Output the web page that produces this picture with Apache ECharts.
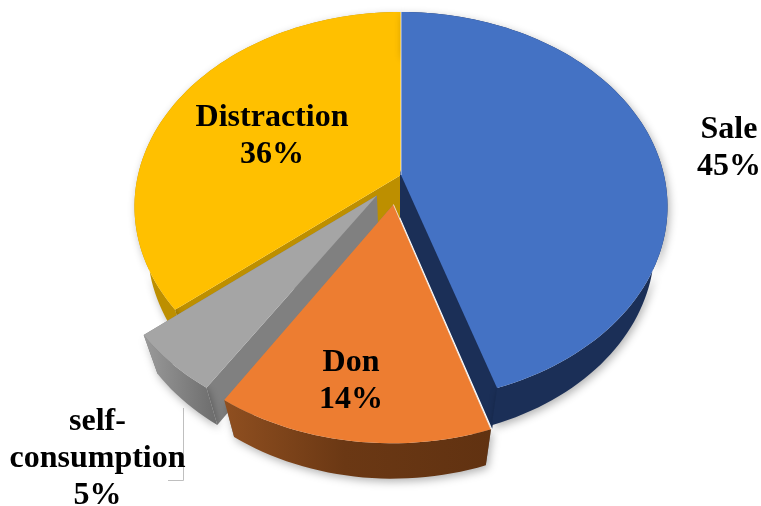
<!DOCTYPE html>
<html>
<head>
<meta charset="utf-8">
<style>
  html, body { margin: 0; padding: 0; background: #fff; }
  #main { width: 761px; height: 506px; }
</style>
</head>
<body>
<div id="main"></div>
<script src="https://cdn.jsdelivr.net/npm/echarts@6/dist/echarts.min.js"></script>
<script>
// clockwise from 12 o'clock
var categories = ["Sale", "Don", "self-\nconsumption", "Distraction"];
var shares = [45, 14, 5, 36];

var topColors = ["#4472c4", "#ed7d31", "#a5a5a5", "#ffc000"];
var sideColors = ["#1b2f57", "#7f7f7f", "#808080", "#bd8f00"];
var paintOrder = [2, 4, 3, 1];
var labelPos = [[729, 148], [351, 381], [97.5, 459], [272, 136]];
// how far a slice is pulled out of the pie (sideways, depthways)
var pullOut = [[0, 0], [-0.028, -0.152], [-0.09, -0.106], [0, 0]];

// perspective of the tilted pie, fitted on the picture
var cx = 401, cy = 175, R = 263, S = 189.4, H = 44, tilt = 0.162, sink = 0.05;

function project(u, v, z) {
  var w = 1 + tilt * v + sink * z;
  return [cx + (R * u) / w, cy + (-S * v + H * z) / w];
}

function arc(a0, a1, ox, oy, z) {
  var pts = [];
  var n = Math.max(4, Math.ceil((a1 - a0) / 0.03));
  for (var i = 0; i <= n; i++) {
    var a = a0 + ((a1 - a0) * i) / n;
    pts.push(project(Math.sin(a) + ox, Math.cos(a) + oy, z));
  }
  return pts;
}

function outerFill(i) {
  if (i === 1) {
    return new echarts.graphic.LinearGradient(0, 0, 1, 0, [
      { offset: 0, color: "#8f4f20" },
      { offset: 0.45, color: "#6b3814" },
      { offset: 1, color: "#613211" },
    ]);
  }
  if (i === 2) {
    return new echarts.graphic.LinearGradient(0, 0, 1, 0, [
      { offset: 0, color: "#9a9a9a" },
      { offset: 1, color: "#6c6c6c" },
    ]);
  }
  return sideColors[i];
}

function renderSlice(params, api) {
  var i = params.dataIndex;
  var total = shares.reduce(function (s, x) { return s + x; }, 0);
  var before = shares.slice(0, i).reduce(function (s, x) { return s + x; }, 0);
  var a0 = (before / total) * Math.PI * 2;
  var a1 = ((before + api.value(0)) / total) * Math.PI * 2;
  var ox = pullOut[i][0];
  var oy = pullOut[i][1];
  var base = paintOrder[i] * 10;

  var apexTop = project(ox, oy, 0);
  var apexLow = project(ox, oy, 1);
  var rimTop = arc(a0, a1, ox, oy, 0);
  var rimLow = arc(a0, a1, ox, oy, 1);
  var last = rimTop.length - 1;
  var kids = [];

  // flat cut walls
  kids.push({
    type: "polygon",
    z2: base,
    shape: { points: [apexTop, rimTop[0], rimLow[0], apexLow] },
    style: { fill: sideColors[i] },
  });
  // Sale's wall is stroked so no white sliver stays next to the Don slice
  kids.push({
    type: "polygon",
    z2: base,
    shape: { points: [apexTop, rimTop[last], rimLow[last], apexLow] },
    style: i === 0
      ? { fill: sideColors[i], stroke: sideColors[i], lineWidth: 2 }
      : { fill: sideColors[i] },
  });
  // curved outer wall
  kids.push({
    type: "polygon",
    z2: base + 1,
    shape: { points: rimTop.concat(rimLow.slice().reverse()) },
    style: {
      fill: outerFill(i),
      shadowBlur: 8,
      shadowColor: "rgba(0,0,0,0.3)",
      shadowOffsetX: 2,
      shadowOffsetY: 3,
    },
  });
  // top face
  kids.push({
    type: "polygon",
    z2: base + 2,
    shape: { points: [apexTop].concat(rimTop) },
    style: { fill: topColors[i] },
  });
  // the light seam on the first edge of Sale and Don
  if (i < 2) {
    kids.push({
      type: "line",
      z2: base + 3,
      shape: { x1: apexTop[0], y1: apexTop[1], x2: rimTop[0][0], y2: rimTop[0][1] },
      style: { stroke: "rgba(255,255,255,0.7)", lineWidth: 1 },
    });
  }

  kids.push({
    type: "text",
    z2: 100,
    x: labelPos[i][0],
    y: labelPos[i][1],
    style: {
      text: categories[i] + "\n" + api.value(0) + "%",
      fill: "#000",
      font: 'bold 32px "Liberation Serif"',
      lineHeight: 37,
      align: "center",
      verticalAlign: "middle",
    },
  });

  return { type: "group", children: kids };
}

var myChart = echarts.init(document.getElementById("main"));
myChart.setOption({
  backgroundColor: "#fff",
  animation: false,
  series: [
    {
      type: "custom",
      coordinateSystem: "none",
      silent: true,
      data: shares.map(function (v) { return [v]; }),
      renderItem: renderSlice,
    },
  ],
  graphic: [
    {
      type: "polyline",
      silent: true,
      z: 1,
      shape: { points: [[183.5, 408], [183.5, 480.5], [168, 480.5]] },
      style: { stroke: "#bfbfbf", lineWidth: 1, fill: null },
    },
  ],
});
</script>
</body>
</html>
